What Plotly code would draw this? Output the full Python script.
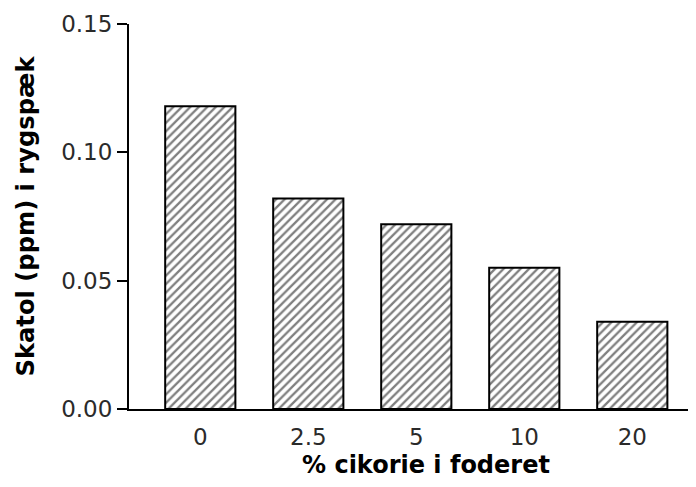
import plotly.graph_objects as go

categories = ["0", "2.5", "5", "10", "20"]
values = [0.118, 0.082, 0.072, 0.055, 0.034]
y_ticks = [0.00, 0.05, 0.10, 0.15]
y_tick_labels = ["0.00", "0.05", "0.10", "0.15"]
x_title = "% cikorie i foderet"
y_title = "Skatol (ppm) i rygspæk"

fig = go.Figure(go.Bar(
    x=categories, y=values, width=0.65,
    marker=dict(color="white", line=dict(color="black", width=2),
                pattern=dict(shape="/", fgcolor="black", bgcolor="white", size=6, solidity=0.38)),
))

tick_font = "DejaVu Sans, sans-serif"
title_font = "DejaVu Sans, sans-serif"
fig.update_layout(
    width=688, height=479,
    margin=dict(l=121, r=0, t=16, b=78),
    paper_bgcolor="white", plot_bgcolor="white",
    showlegend=False,
    font=dict(family=tick_font, color="#222"),
    xaxis=dict(type="category", range=[-0.66, 4.59], showline=True, linecolor="black", linewidth=2,
               ticks="", showgrid=False, tickfont=dict(family=tick_font, size=23, color="#2a2a2a"),
               ticklabelstandoff=6),
    yaxis=dict(range=[0, 0.15], tickvals=y_ticks, ticktext=y_tick_labels, showline=True,
               linecolor="black", linewidth=2, ticks="outside", ticklen=10, tickwidth=2, tickcolor="black",
               showgrid=False, zeroline=False, tickfont=dict(family=tick_font, size=23, color="#2a2a2a"),
               title=dict(text="<b>" + y_title + "</b>",
                          font=dict(family=title_font, size=24.2, color="black"), standoff=20)),
    annotations=[dict(text="<b>" + x_title + "</b>", xref="paper", yref="paper",
                      x=0.524, y=-0.145, xanchor="center", yanchor="middle", showarrow=False,
                      font=dict(family=title_font, size=24, color="black"))],
)
fig.write_html("out.html")
